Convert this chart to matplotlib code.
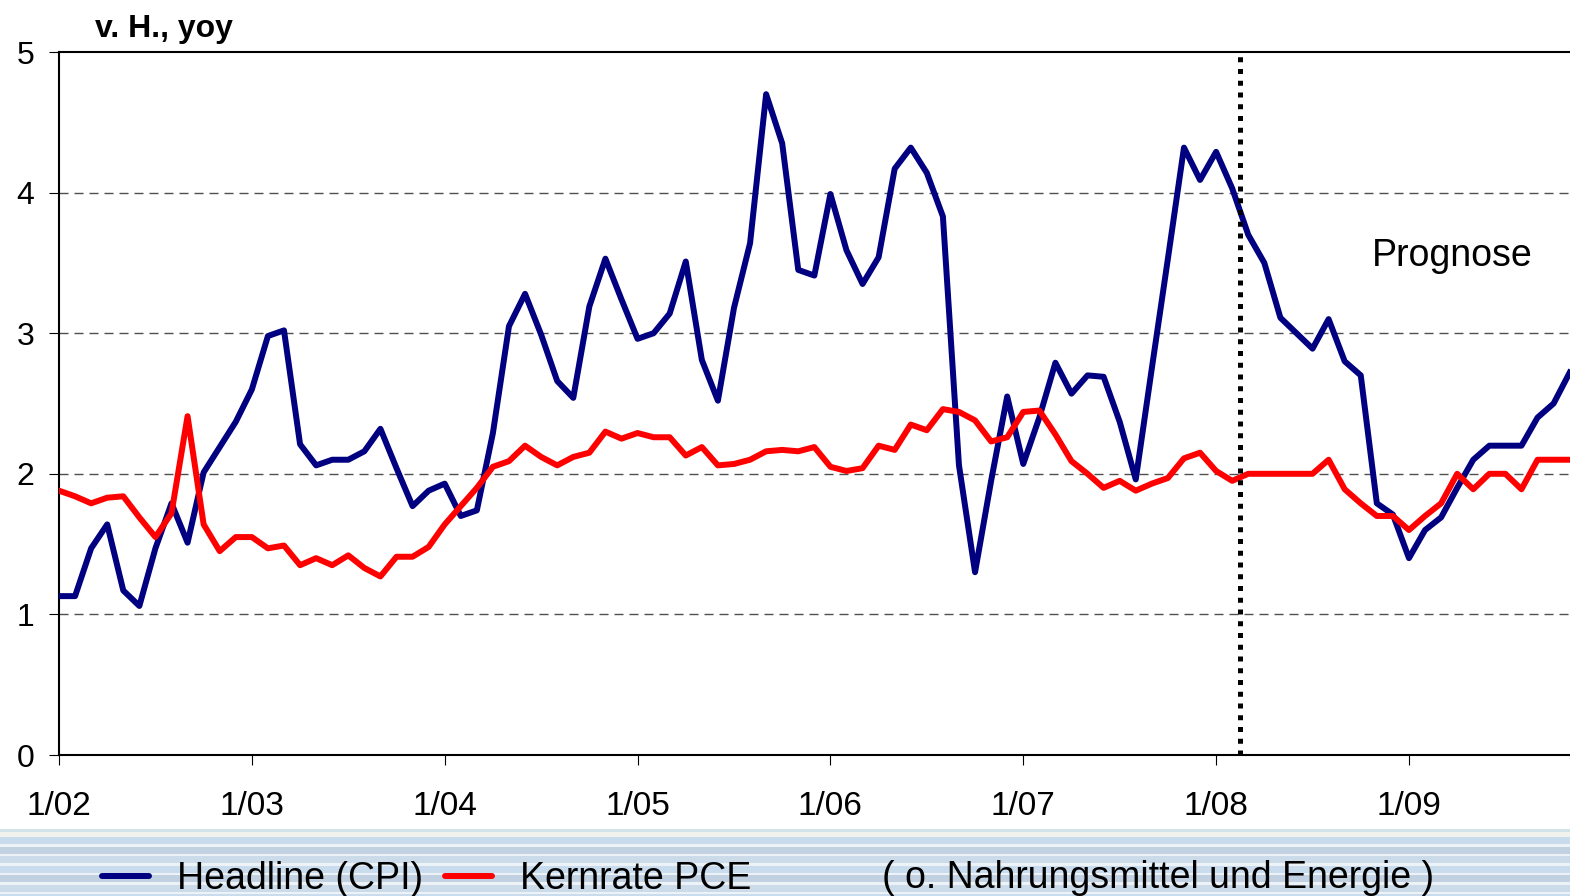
import numpy as np
import pandas as pd
import matplotlib
matplotlib.use("Agg")
import matplotlib.pyplot as plt
from matplotlib.lines import Line2D
from matplotlib.patches import Rectangle

plt.rcParams["font.family"] = ["Liberation Sans", "DejaVu Sans"]

# Monthly observations, Jan 2002 .. Nov 2009
months = pd.period_range("2002-01", periods=95, freq="M")

headline_cpi = [
    1.13, 1.13, 1.47, 1.64, 1.17, 1.06, 1.47, 1.79, 1.51, 2.01, 2.19, 2.37,
    2.60, 2.98, 3.02, 2.21, 2.06, 2.10, 2.10, 2.16, 2.32, 2.04, 1.77, 1.88,
    1.93, 1.70, 1.74, 2.29, 3.05, 3.28, 2.99, 2.66, 2.54, 3.19, 3.53, 3.24,
    2.96, 3.00, 3.14, 3.51, 2.81, 2.52, 3.18, 3.64, 4.70, 4.35, 3.45, 3.41,
    3.99, 3.59, 3.35, 3.54, 4.17, 4.32, 4.14, 3.83, 2.06, 1.30, 1.95, 2.55,
    2.07, 2.40, 2.79, 2.57, 2.70, 2.69, 2.37, 1.96, 2.75, 3.53, 4.32, 4.09,
    4.29, 4.03, 3.70, 3.50, 3.11, 3.00, 2.89, 3.10, 2.80, 2.70, 1.79, 1.71,
    1.40, 1.60, 1.69, 1.90, 2.10, 2.20, 2.20, 2.20, 2.40, 2.50, 2.72,
]

core_pce = [
    1.88, 1.84, 1.79, 1.83, 1.84, 1.69, 1.55, 1.72, 2.41, 1.64, 1.45, 1.55,
    1.55, 1.47, 1.49, 1.35, 1.40, 1.35, 1.42, 1.33, 1.27, 1.41, 1.41, 1.48,
    1.64, 1.77, 1.90, 2.05, 2.09, 2.20, 2.12, 2.06, 2.12, 2.15, 2.30, 2.25,
    2.29, 2.26, 2.26, 2.13, 2.19, 2.06, 2.07, 2.10, 2.16, 2.17, 2.16, 2.19,
    2.05, 2.02, 2.04, 2.20, 2.17, 2.35, 2.31, 2.46, 2.44, 2.38, 2.23, 2.26,
    2.44, 2.45, 2.28, 2.09, 2.00, 1.90, 1.95, 1.88, 1.93, 1.97, 2.11, 2.15,
    2.02, 1.95, 2.00, 2.00, 2.00, 2.00, 2.00, 2.10, 1.89, 1.79, 1.70, 1.70,
    1.60, 1.70, 1.79, 2.00, 1.89, 2.00, 2.00, 1.89, 2.10, 2.10, 2.10,
]

tick_labels = ["1/02", "1/03", "1/04", "1/05", "1/06", "1/07", "1/08", "1/09"]
y_ticks = [0, 1, 2, 3, 4, 5]
series_labels = ["Headline (CPI)", "Kernrate PCE"]
note_text = "( o. Nahrungsmittel und Energie )"
unit_text = "v. H., yoy"
forecast_text = "Prognose"

NAVY = "#000080"
RED = "#ff0000"

W, H = 1570, 896
fig = plt.figure(figsize=(W / 100, H / 100), dpi=100)
fig.patch.set_facecolor("white")

# striped footer band
fig.add_artist(Rectangle((0, 1 - 831.5 / H), 1, 2.5 / H, transform=fig.transFigure,
                         facecolor="#d3e3ea", edgecolor="none", zorder=1))
fig.add_artist(Rectangle((0, 1 - 837 / H), 1, 5.5 / H, transform=fig.transFigure,
                         facecolor="#f1f2ee", edgecolor="none", zorder=1))
band_colors = ["#c9dcee", "#c1d1e1", "#cbdbea"]
y0 = 837.0
k = 0
while y0 < H:
    fig.add_artist(Rectangle((0, 1 - (y0 + 7) / H), 1, 7 / H, transform=fig.transFigure,
                             facecolor=band_colors[k % 3], edgecolor="none", zorder=1))
    fig.add_artist(Rectangle((0, 1 - (y0 + 9.5) / H), 1, 2.5 / H, transform=fig.transFigure,
                             facecolor="#edf2f6", edgecolor="none", zorder=1))
    y0 += 9.5
    k += 1

ax = fig.add_axes([59 / W, (H - 755) / H, 1511 / W, 703 / H])
x = np.arange(len(months))

ax.plot(x, headline_cpi, color=NAVY, lw=4.3, solid_joinstyle="round", zorder=3)
ax.plot(x, core_pce, color=RED, lw=4.3, solid_joinstyle="round", zorder=4)

# start of the forecast horizon (between Feb and Mar 2008)
forecast_start = 73.5
ax.axvline(forecast_start, color="black", lw=3.6, linestyle=(0, (1.0, 1.35)),
           dash_capstyle="butt", zorder=5)
ax.text(81.68, 3.48, forecast_text, fontsize=27, ha="left", va="baseline", zorder=6)

ax.set_xlim(0, 1511 / 16.071)
ax.set_ylim(0, 5)

year_starts = [i for i, m in enumerate(months) if m.month == 1]
ax.set_xticks(year_starts)
ax.set_xticklabels(tick_labels)
ax.set_yticks(y_ticks)
ax.set_yticklabels([str(v) for v in y_ticks])

ax.tick_params(axis="x", direction="out", length=7.2, width=0.8, pad=19, labelsize=24)
ax.tick_params(axis="y", direction="out", length=7.2, width=0.8, pad=10.5, labelsize=23)

for yv in y_ticks[1:-1]:
    ax.axhline(yv, color="#505050", lw=1.0, linestyle=(0, (6.5, 4.3)), zorder=1)

ax.spines["right"].set_visible(False)
for s in ("left", "top", "bottom"):
    ax.spines[s].set_linewidth(1.5)
    ax.spines[s].set_color("black")

fig.text(95 / W, 1 - 37.5 / H, unit_text, fontsize=23, fontweight="bold",
         ha="left", va="baseline")

handles = [Line2D([], [], color=NAVY, lw=4.3, solid_capstyle="round"),
           Line2D([], [], color=RED, lw=4.3, solid_capstyle="round")]
fig.legend(handles, series_labels, loc="center left", bbox_to_anchor=(102 / W, 1 - 879 / H),
           ncol=2, frameon=False, fontsize=27, handlelength=1.25, handletextpad=0.75,
           columnspacing=0.59, borderpad=0, borderaxespad=0)
fig.text(882 / W, 1 - 888 / H, note_text, fontsize=27, ha="left", va="baseline")

fig.savefig("out.png", dpi=100, facecolor="white")
